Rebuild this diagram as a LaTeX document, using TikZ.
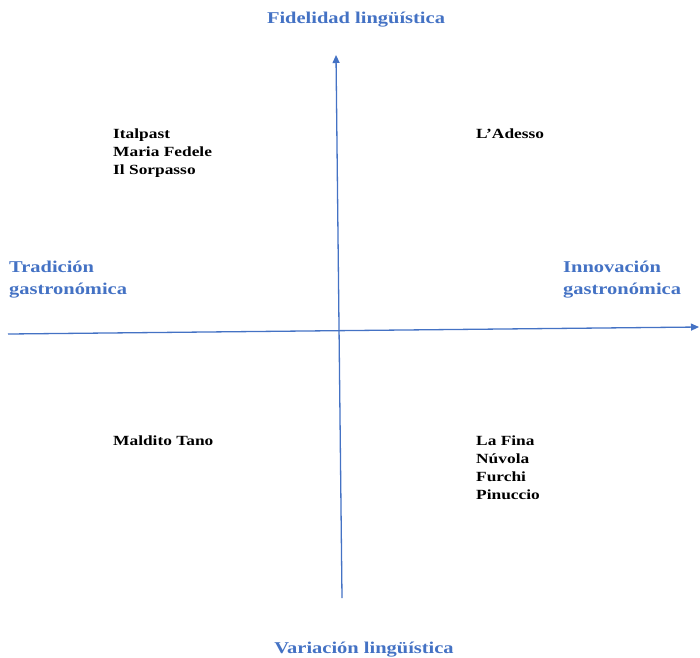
\documentclass[tikz,border=0pt]{standalone}
\usepackage{fontspec}
\setmainfont{Liberation Serif}
\usetikzlibrary{arrows.meta}
\definecolor{axisblue}{HTML}{4472C4}
\newcommand{\stretched}[1]{\scalebox{1.24}[1]{#1}}
\newcommand{\lines}[1]{\stretched{\begin{tabular}[t]{@{}l@{}}#1\end{tabular}}}
\begin{document}
\begin{tikzpicture}[x=1pt,y=-1pt,
  axis/.style={draw=axisblue, line width=1.3pt, -{Triangle[length=8pt,width=7pt]}},
  title/.style={inner sep=0, text=axisblue, font=\fontsize{16.5}{22}\selectfont\bfseries},
  entry/.style={inner sep=0, anchor=base west, font=\fontsize{14}{18}\selectfont\bfseries}]
\useasboundingbox (0,0) rectangle (700,657);
\coordinate (vtop) at (336,55);
\coordinate (vbot) at (342,598);
\coordinate (hleft) at (8,334);
\coordinate (hright) at (699,327);
\draw[axis] (vbot) -- (vtop);
\draw[axis] (hleft) -- (hright);
\node[title, anchor=base] (fid) at (356,23) {\stretched{Fidelidad lingüística}};
\node[title, anchor=base] (var) at (364,653) {\stretched{Variación lingüística}};
\node[title, anchor=base west] (trad) at (9,272) {\lines{Tradición\\gastronómica}};
\node[title, anchor=base west] (inno) at (563,272) {\lines{Innovación\\gastronómica}};
\node[entry] (q1) at (113,138) {\lines{Italpast\\Maria Fedele\\Il Sorpasso}};
\node[entry] (q2) at (476,138) {\lines{L’Adesso}};
\node[entry] (q3) at (113,445) {\lines{Maldito Tano}};
\node[entry] (q4) at (476,445) {\lines{La Fina\\Núvola\\Furchi\\Pinuccio}};
\end{tikzpicture}
\end{document}
